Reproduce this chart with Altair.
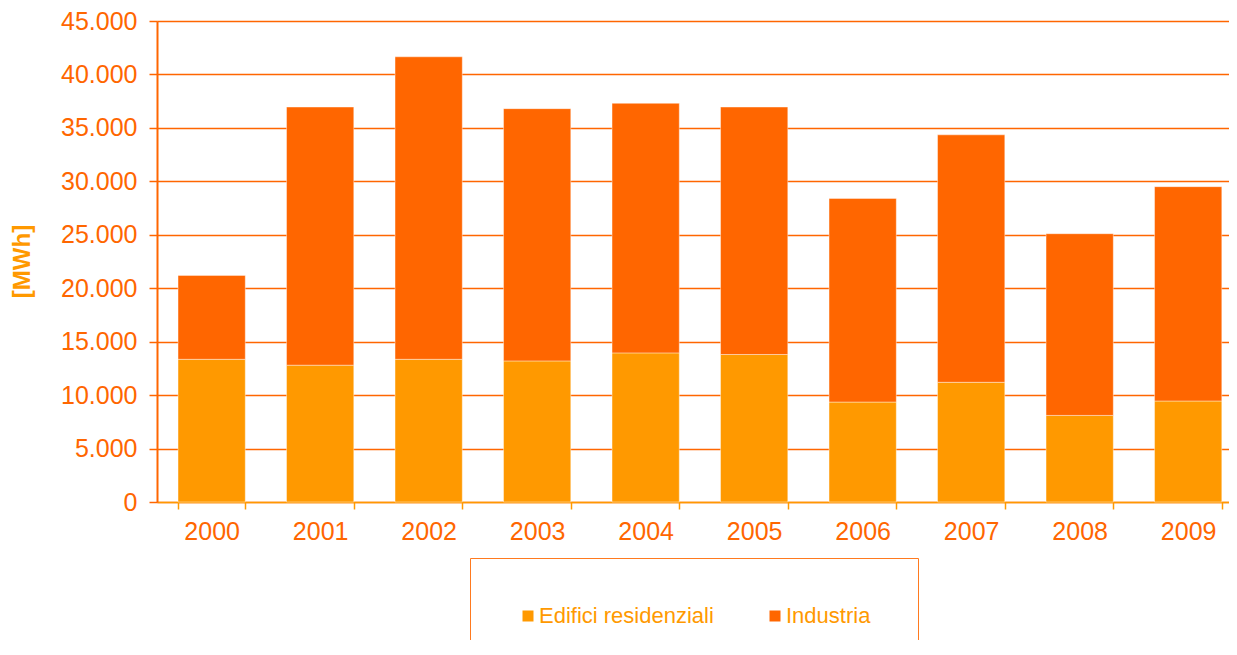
import altair as alt
import pandas as pd

years = ["2000", "2001", "2002", "2003", "2004", "2005", "2006", "2007", "2008", "2009"]
residenziali = [13350, 12800, 13350, 13200, 13950, 13800, 9350, 11200, 8100, 9450]
industria = [7850, 24150, 28300, 23600, 23350, 23150, 19050, 23150, 17000, 20050]
series = ["Edifici residenziali", "Industria"]
colors = ["#FF9900", "#FF6600"]
y_ticks = [0, 5000, 10000, 15000, 20000, 25000, 30000, 35000, 40000, 45000]

rows = []
for i, y in enumerate(years):
    rows.append({"anno": y, "serie": series[0], "valore": residenziali[i], "ord": 0})
    rows.append({"anno": y, "serie": series[1], "valore": industria[i], "ord": 1})
df = pd.DataFrame(rows)

FONT = "Liberation Sans"

chart = alt.Chart(df).mark_bar(
    stroke="#FFFFFF", strokeWidth=0.6, strokeOpacity=0.7
).encode(
    x=alt.X("anno:N", sort=years, title=None,
            scale=alt.Scale(paddingInner=0.38, paddingOuter=0.13, align=0.745),
            axis=alt.Axis(labelAngle=0, labelFont=FONT, labelFontSize=25,
                          labelColor="#FF6600", labelPadding=10,
                          tickBand="extent", tickSize=7, tickColor="#FF9900",
                          tickWidth=1.5, domainColor="#FF9900", domainWidth=1.5,
                          grid=False)),
    y=alt.Y("valore:Q", stack="zero", title="[MWh]",
            scale=alt.Scale(domain=[0, 45000], nice=False),
            axis=alt.Axis(values=y_ticks,
                          labelExpr="replace(format(datum.value, ',.0f'), ',', '.')",
                          labelFont=FONT, labelFontSize=25, labelColor="#FF6600",
                          labelPadding=12, tickSize=8, tickColor="#FF6600",
                          tickWidth=1.5, domainColor="#FF6600", domainWidth=2,
                          gridColor="#FF6600", gridWidth=1.3,
                          titleFont=FONT, titleFontSize=24, titleFontWeight="bold",
                          titleColor="#FF9900", titleAngle=-90,
                          titleX=-123, titleY=240, titleBaseline="bottom",
                          titleAlign="center")),
    color=alt.Color("serie:N", scale=alt.Scale(domain=series, range=colors),
                    legend=alt.Legend(title=None, orient="none", direction="horizontal",
                                      legendX=313, legendY=537, padding=47,
                                      strokeColor="#FF7A1F",
                                      symbolType="square", symbolSize=121,
                                      symbolStrokeWidth=0, labelFont=FONT,
                                      labelFontSize=22, labelColor="#FF9900",
                                      labelOffset=0, labelLimit=400,
                                      columnPadding=50)),
    order=alt.Order("ord:Q", sort="ascending"),
).properties(
    width=1072,
    height=481,
    autosize=alt.AutoSizeParams(type="none"),
    padding={"left": 149, "top": 13, "right": 0, "bottom": 138},
).configure_view(stroke=None).configure_legend(strokeWidth=1.5).configure(background="white")

chart.save("out.html", embed_options={"renderer": "svg", "actions": False})
